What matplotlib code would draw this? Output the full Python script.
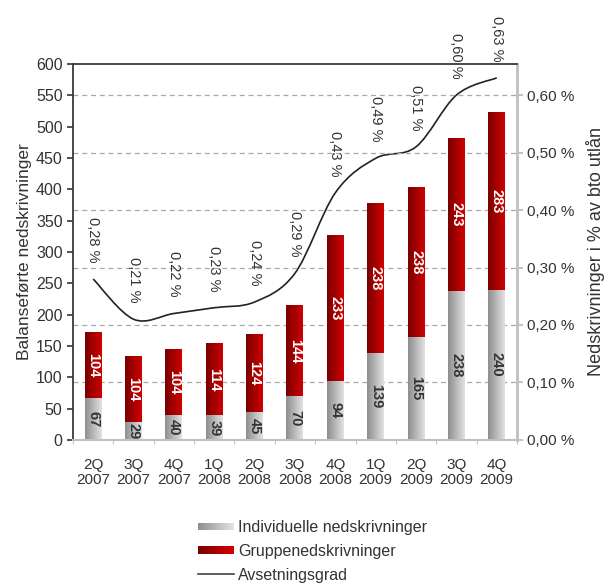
import numpy as np
import matplotlib
matplotlib.use("Agg")
import matplotlib.pyplot as plt
from matplotlib.path import Path
from matplotlib.patches import PathPatch, Rectangle
from matplotlib.legend_handler import HandlerBase
from matplotlib.colors import LinearSegmentedColormap
from matplotlib.lines import Line2D

quarters = ["2Q\n2007", "3Q\n2007", "4Q\n2007", "1Q\n2008", "2Q\n2008", "3Q\n2008",
            "4Q\n2008", "1Q\n2009", "2Q\n2009", "3Q\n2009", "4Q\n2009"]
individual = [67, 29, 40, 39, 45, 70, 94, 139, 165, 238, 240]
group = [104, 104, 104, 114, 124, 144, 233, 238, 238, 243, 283]
ratio = [0.28, 0.21, 0.22, 0.23, 0.24, 0.29, 0.43, 0.49, 0.51, 0.60, 0.63]
left_ticks = list(range(0, 601, 50))
right_ticks = [0.0, 0.1, 0.2, 0.3, 0.4, 0.5, 0.6]

TXT = "#333333"
RED_CMAP = LinearSegmentedColormap.from_list("red", ["#7a0000", "#d00000"])
GRAY_CMAP = LinearSegmentedColormap.from_list("gray", ["#8e8e8e", "#e2e2e2"])
plt.rcParams["font.family"] = ["Liberation Sans", "DejaVu Sans"]

fig = plt.figure(figsize=(6.06, 5.85), dpi=100)
ax = fig.add_axes([0.1205, 0.248, 0.7325, 0.6425])
ax2 = ax.twinx()
ax2.set_zorder(ax.get_zorder() - 1)
ax.patch.set_visible(False)

x = np.arange(len(quarters))
w = 0.42
grad = np.linspace(0, 1, 64).reshape(1, -1)
for xi, ind, grp in zip(x, individual, group):
    ax.imshow(grad, cmap=GRAY_CMAP, aspect="auto", interpolation="bilinear",
              extent=(xi - w / 2, xi + w / 2, 0, ind), zorder=2)
    ax.imshow(grad, cmap=RED_CMAP, aspect="auto", interpolation="bilinear",
              extent=(xi - w / 2, xi + w / 2, ind, ind + grp), zorder=2)
    ax.text(xi, ind / 2, str(ind), rotation=270, ha="center", va="center",
            fontsize=10.5, fontweight="bold", color=TXT, zorder=3)
    ax.text(xi, ind + grp / 2, str(grp), rotation=270, ha="center", va="center",
            fontsize=10.5, fontweight="bold", color="white", zorder=3)

ax.set_xlim(-0.45, len(quarters) - 0.55)
ax.set_ylim(0, 600)
ax.set_yticks(left_ticks)
ax.set_xticks(x)
ax.set_xticklabels(quarters, fontsize=11, color=TXT, linespacing=1.05)
ax.set_xticks(np.arange(len(quarters) + 1) - 0.5, minor=True)
ax.tick_params(axis="x", which="major", length=0, pad=13)
ax.tick_params(axis="x", which="minor", length=3, color="#b0b0b0", direction="out")
ax.tick_params(axis="y", labelsize=11.5, labelcolor=TXT, length=4, color="#333333", width=1.2)
ax.set_ylabel("Balanseførte nedskrivninger", fontsize=12.5, color=TXT, labelpad=3)
for s in ["top", "left"]:
    ax.spines[s].set_color("#3a3a3a")
    ax.spines[s].set_linewidth(1.3)
ax.spines["right"].set_visible(False)
ax.spines["bottom"].set_color("#c0c0c0")
ax.spines["bottom"].set_linewidth(1.5)

# smoothed ratio line (Catmull-Rom style Bezier through the points)
pts = np.column_stack([x, ratio]).astype(float)
verts = [pts[0]]
codes = [Path.MOVETO]
n = len(pts)
for i in range(n - 1):
    p0 = pts[i - 1] if i > 0 else pts[i]
    p1, p2 = pts[i], pts[i + 1]
    p3 = pts[i + 2] if i + 2 < n else pts[i + 1]
    verts += [p1 + (p2 - p0) / 6, p2 - (p3 - p1) / 6, p2]
    codes += [Path.CURVE4] * 3
ax2.add_patch(PathPatch(Path(verts, codes), fill=False, edgecolor="#222222", lw=1.2))
for xi, r in zip(x, ratio):
    ax2.annotate(f"{r:.2f} %".replace(".", ","), xy=(xi, r), xytext=(0, 12),
                 textcoords="offset points", rotation=270, ha="center", va="bottom",
                 fontsize=10.5, color=TXT, annotation_clip=False)

ax2.set_ylim(0, 0.654)
ax2.set_yticks(right_ticks)
ax2.set_yticklabels([f"{t:.2f} %".replace(".", ",") for t in right_ticks])
ax2.tick_params(axis="y", labelsize=11, labelcolor=TXT, length=4, color="#b8b8b8", width=1.2)
ax2.grid(axis="y", linestyle=(0, (4, 3)), color="#a8a8a8", linewidth=0.9)
ax2.set_ylabel("Nedskrivninger i % av bto utlån", fontsize=13, color=TXT, labelpad=8)
for s in ["top", "left", "bottom"]:
    ax2.spines[s].set_visible(False)
ax2.spines["right"].set_color("#c0c0c0")
ax2.spines["right"].set_linewidth(2)


class GradientHandler(HandlerBase):
    def __init__(self, cmap):
        super().__init__()
        self.cmap = cmap

    def create_artists(self, legend, orig, xd, yd, width, height, fontsize, trans):
        steps = 24
        arts = []
        h = height * 0.7
        for k in range(steps):
            arts.append(Rectangle((xd + width * k / steps, yd + (height - h) / 2),
                                  width / steps * 1.05, h,
                                  facecolor=self.cmap(k / (steps - 1)), edgecolor="none",
                                  transform=trans))
        return arts


h_ind = Rectangle((0, 0), 1, 1)
h_grp = Rectangle((0, 0), 1, 1)
h_line = Line2D([], [], color="#444444", lw=1.2)
fig.legend([h_ind, h_grp, h_line],
           ["Individuelle nedskrivninger", "Gruppenedskrivninger", "Avsetningsgrad"],
           handler_map={h_ind: GradientHandler(GRAY_CMAP), h_grp: GradientHandler(RED_CMAP)},
           loc="upper left", bbox_to_anchor=(0.316, 0.122), frameon=False,
           fontsize=11.5, handlelength=2.25, handletextpad=0.25, labelspacing=0.55,
           labelcolor=TXT, borderaxespad=0)

fig.savefig("out.png", dpi=100, facecolor="white")
